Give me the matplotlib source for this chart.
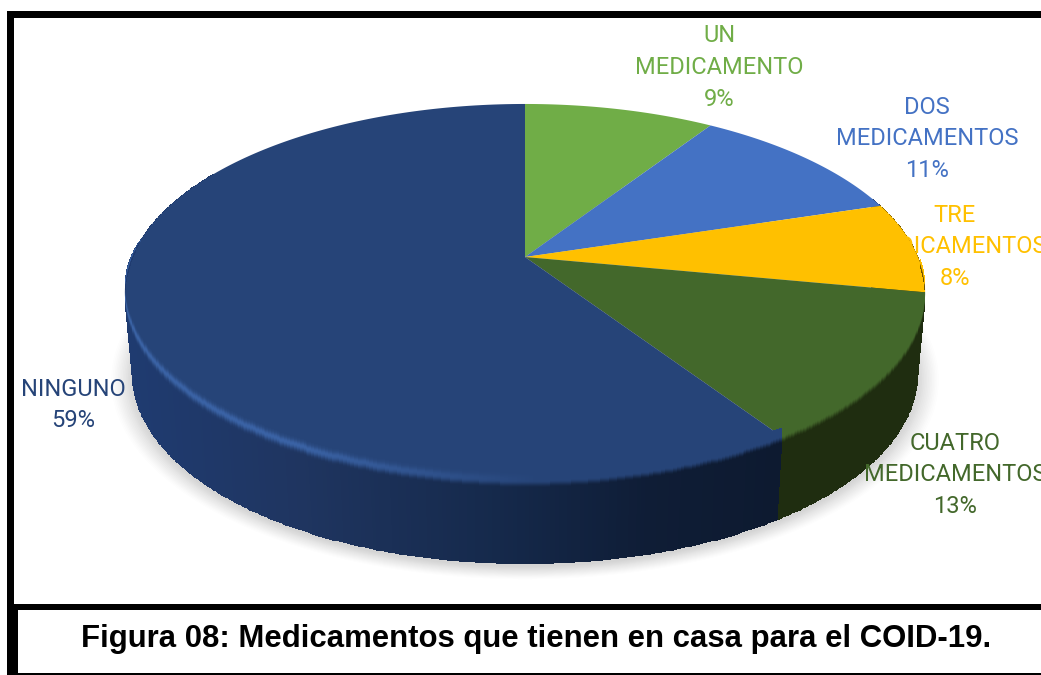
import numpy as np
import matplotlib
matplotlib.use("Agg")
import matplotlib.pyplot as plt
from matplotlib.colors import to_rgb
from matplotlib.patches import Rectangle

# Data, in drawing order (clockwise from 12 o'clock)
categories = ["UN\nMEDICAMENTO", "DOS\nMEDICAMENTOS", "TRE\nMEDICAMENTOS",
              "CUATRO\nMEDICAMENTOS", "NINGUNO"]
values = [9.2, 11.0, 7.8, 12.7, 59.3]
colors = ["#70AD47", "#4472C4", "#FFC000", "#43682B", "#264478"]
side_colors = ["#3a5a24", "#223a66", "#6E5300", "#1F2D10", "#14233F"]
caption = "Figura 08: Medicamentos que tienen en casa para el COID-19."

W, H = 1041, 675
plt.rcParams["font.family"] = ["Roboto", "DejaVu Sans"]
fig = plt.figure(figsize=(W / 100, H / 100), dpi=100, facecolor="white")
ax = fig.add_axes([0, 0, 1, 1])
ax.set_xlim(0, W)
ax.set_ylim(H, 0)
ax.axis("off")

# Perspective view of the disc
CX, CY, R, S, K = 525.0, 257.0, 393.0, 181.8, 0.188
DEPTH, SHRINK = 83.0, 0.98


def project(theta, r=1.0):
    u, v = r * np.sin(theta), r * np.cos(theta)
    w = 1 + K * v
    return CX + R * u / w, CY - S * v / w


fractions = np.array(values, float) / sum(values)
edges = 2 * np.pi * np.concatenate([[0], np.cumsum(fractions)])

# Soft shadow under the disc
th = np.linspace(0, 2 * np.pi, 400)
for grow, a in zip(np.linspace(1.055, 1.0, 14), np.linspace(0.012, 0.026, 14)):
    x, y = project(th)
    bx = CX + (x - CX) * SHRINK * grow
    by = CY + (y - CY) * grow + DEPTH + 3
    ax.fill(bx, by, color="#606060", alpha=a, lw=0, zorder=1)

navy_x = [130, 300, 500, 650, 780]
navy_c = np.array([to_rgb(c) for c in ["#1F3B70", "#1F3560", "#15294B", "#0F1D36", "#0D1A30"]])


def side_color(k, xpos):
    if k == 4:
        return np.array([np.interp(xpos, navy_x, navy_c[:, n]) for n in range(3)])
    return np.array(to_rgb(side_colors[k]))


# Side wall, drawn under the top face
thetas = np.linspace(np.deg2rad(70), np.deg2rad(300), 461)
xt, yt = project(thetas)
mid = (thetas[:-1] + thetas[1:]) / 2
X = np.column_stack([xt, CX + (xt - CX) * SHRINK])
Y = np.column_stack([yt, yt + DEPTH])
C = np.ones((len(mid), 1, 3))
for i, m in enumerate(mid):
    C[i, 0] = side_color(np.searchsorted(edges, m) - 1, xt[i])
ax.pcolormesh(X, Y, C, shading="flat", zorder=2, antialiased=False)

# Top face
for i, c in enumerate(colors):
    t = np.linspace(edges[i], edges[i + 1], 200)
    x, y = project(t)
    ax.fill(np.r_[CX, x], np.r_[CY, y], color=c, lw=0, zorder=3)

# Soft bevel across the front rim, with a highlight on the lit left side
FADE = 9.0
thetas = np.linspace(np.deg2rad(92), np.deg2rad(276), 369)
xt, yt = project(thetas)
mid = (thetas[:-1] + thetas[1:]) / 2
amp = np.clip(-np.cos(thetas) * 3 + 0.35, 0, 1)
prof = np.linspace(-1, 1, 19)
X = np.tile(xt[:, None], (1, len(prof)))
Y = yt[:, None] + FADE * amp[:, None] * prof[None, :]
C = np.ones((len(mid), len(prof) - 1, 3))
pm = (prof[:-1] + prof[1:]) / 2
glow = np.array(to_rgb("#3A62A4"))
for i, m in enumerate(mid):
    k = np.searchsorted(edges, m) - 1
    top = np.array(to_rgb(colors[k]))
    side = side_color(k, xt[i])
    strength = np.clip((540 - xt[i]) / 240, 0, 1) if k == 4 else 0.0
    for j, p in enumerate(pm):
        g = np.clip((p + 0.05) / 0.8, 0, 1)
        g = g * g * (3 - 2 * g)
        base = top + (side - top) * g
        h = strength * np.exp(-((p + 0.2) / 0.45) ** 2)
        C[i, j] = base + (glow - base) * h
ax.pcolormesh(X, Y, C, shading="flat", zorder=4, antialiased=False)

# Data labels
label_pos = [(719, 36), (927, 107), (955, 215), (955, 443), (73, 389)]
for name, val, c, (lx, ly) in zip(categories, values, colors, label_pos):
    for n, line in enumerate(name.split("\n") + [f"{val:.0f}%"]):
        ax.text(lx, ly + n * 31.6, line, color=c, fontsize=17, ha="center",
                va="center", zorder=6)

# Frame and caption box
black = "#000000"
ax.add_patch(Rectangle((7, 11), W, 7, color=black, lw=0, zorder=7))
ax.add_patch(Rectangle((7, 11), 7, 660, color=black, lw=0, zorder=7))
ax.add_patch(Rectangle((7, 604), 11, 71, color=black, lw=0, zorder=7))
ax.add_patch(Rectangle((14, 604), W, 5.5, color=black, lw=0, zorder=7))
ax.add_patch(Rectangle((18, 673), W, 2, color=black, lw=0, zorder=7))
ax.text(536, 639, caption, fontsize=22.4, fontweight="bold", color="black",
        family=["Liberation Sans", "DejaVu Sans"], ha="center", va="center", zorder=8)

fig.savefig("out.png", dpi=100, facecolor="white")
